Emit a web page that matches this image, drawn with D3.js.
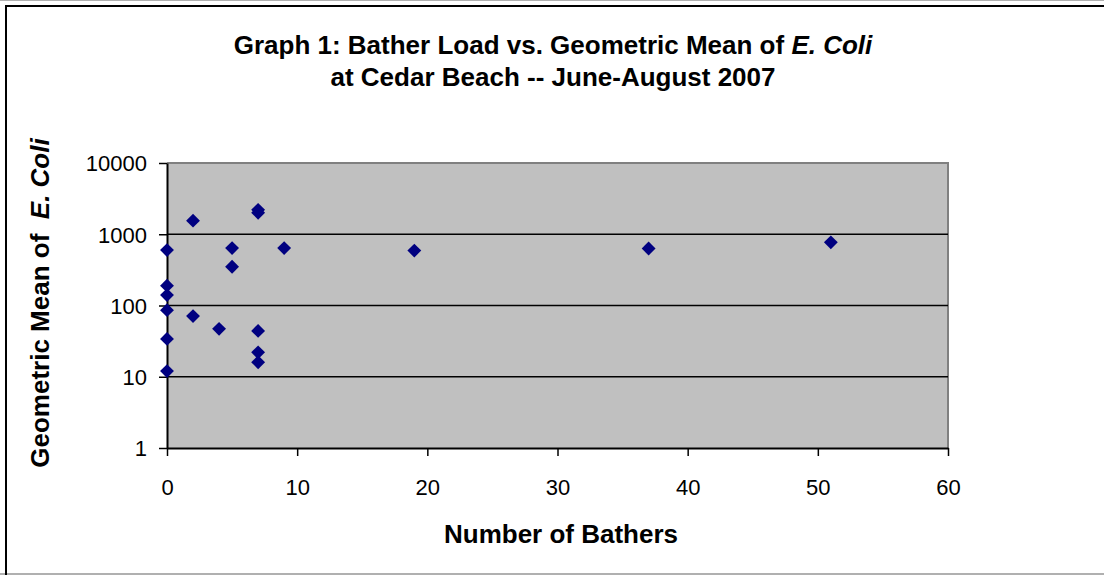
<!DOCTYPE html>
<html lang="en">
<meta charset="utf-8">
<style>
  body { margin: 0; background: #fff; }
  text { font-family: Arial, "Liberation Sans", sans-serif; fill: #000; }
  .tick-label { font-size: 22px; }
  .bold { font-weight: bold; font-size: 26px; }
</style>
<script src="https://d3js.org/d3.v7.min.js"></script>
<body>
<div id="chart"></div>
<script>
// data
const bathers = [0, 0, 0, 0, 0, 0, 2, 2, 4, 5, 5, 7, 7, 7, 7, 7, 9, 19, 37, 51]
const ecoli = [600, 190, 140, 86, 34, 12, 1550, 71, 47, 640, 350, 2200, 2000, 44, 22, 16, 640, 590, 630, 770]
const xTicks = [0, 10, 20, 30, 40, 50, 60]
const yTicks = [1, 10, 100, 1000, 10000]
const gridValues = [10, 100, 1000]

const W = 1104, H = 575
const PLOT = { LEFT: 167, RIGHT: 948, TOP: 163, BOTTOM: 448 }

const svg = d3.select("#chart").append("svg")
  .attr("width", W)
  .attr("height", H)

// outer frame
svg.append("line").attr("x1", 0).attr("x2", W).attr("y1", 0.5).attr("y2", 0.5)
  .attr("stroke", "#b0b0b0").attr("stroke-width", 1)
svg.append("line").attr("x1", 0).attr("x2", W).attr("y1", 574).attr("y2", 574)
  .attr("stroke", "#b0b0b0").attr("stroke-width", 2)
svg.append("path")
  .attr("d", `M6,${H} V6 H${W}`)
  .attr("fill", "none").attr("stroke", "#000").attr("stroke-width", 2)

// scales
const x = d3.scaleLinear().domain([0, 60]).range([PLOT.LEFT, PLOT.RIGHT])
const y = d3.scaleLog().domain([1, 10000]).range([PLOT.BOTTOM, PLOT.TOP])

// plot area
svg.append("rect")
  .attr("x", PLOT.LEFT).attr("y", PLOT.TOP)
  .attr("width", PLOT.RIGHT - PLOT.LEFT)
  .attr("height", PLOT.BOTTOM - PLOT.TOP)
  .attr("fill", "#c0c0c0")
svg.append("path")
  .attr("d", `M${PLOT.LEFT},${PLOT.TOP} H${PLOT.RIGHT} V${PLOT.BOTTOM}`)
  .attr("fill", "none").attr("stroke", "#808080").attr("stroke-width", 2)

// gridlines
svg.append("g").selectAll("line")
  .data(gridValues)
  .join("line")
  .attr("x1", PLOT.LEFT).attr("x2", PLOT.RIGHT)
  .attr("y1", d => y(d)).attr("y2", d => y(d))
  .attr("stroke", "#000").attr("stroke-width", 1.5)

// axes
const xAxis = svg.append("g")
  .attr("transform", `translate(0, ${PLOT.BOTTOM})`)
  .call(d3.axisBottom(x).tickValues(xTicks).tickSize(8).tickPadding(23).tickSizeOuter(0))
const yAxis = svg.append("g")
  .attr("transform", `translate(${PLOT.LEFT}, 0)`)
  .call(d3.axisLeft(y).tickValues(yTicks).tickFormat(d3.format("d")).tickSize(8).tickPadding(12).tickSizeOuter(0))

;[xAxis, yAxis].forEach(a => {
  a.attr("font-family", null).attr("font-size", null)
  a.select(".domain").attr("stroke", "#000").attr("stroke-width", 2)
  a.selectAll(".tick line").attr("stroke", "#000").attr("stroke-width", 1.5)
  a.selectAll(".tick text").attr("class", "tick-label").attr("fill", "#000")
})
yAxis.selectAll(".tick text").attr("dy", "0.36em")

// points
const diamond = d3.symbol().type(d3.symbolSquare).size(96)
svg.append("g").selectAll("path")
  .data(bathers.map((b, i) => ({ b, e: ecoli[i] })))
  .join("path")
  .attr("d", diamond)
  .attr("transform", d => `translate(${x(d.b)}, ${y(d.e)}) rotate(45)`)
  .attr("fill", "#000080")

// titles
const title = svg.append("text").attr("class", "bold").attr("text-anchor", "middle")
  .attr("x", 553).attr("y", 54)
title.append("tspan").text("Graph 1: Bather Load vs. Geometric Mean of ")
title.append("tspan").attr("font-style", "italic").text("E. Coli")
svg.append("text").attr("class", "bold").attr("text-anchor", "middle")
  .attr("x", 553).attr("y", 86)
  .text("at Cedar Beach -- June-August 2007")

svg.append("text").attr("class", "bold").attr("text-anchor", "middle")
  .attr("x", 561).attr("y", 543)
  .text("Number of Bathers")

const yLabel = svg.append("text").attr("class", "bold").attr("text-anchor", "middle")
  .attr("transform", "translate(49, 303) rotate(-90)")
  .style("white-space", "pre")
yLabel.append("tspan").text("Geometric Mean of  ")
yLabel.append("tspan").attr("font-style", "italic").text("E. Coli")
</script>
</body>
</html>
